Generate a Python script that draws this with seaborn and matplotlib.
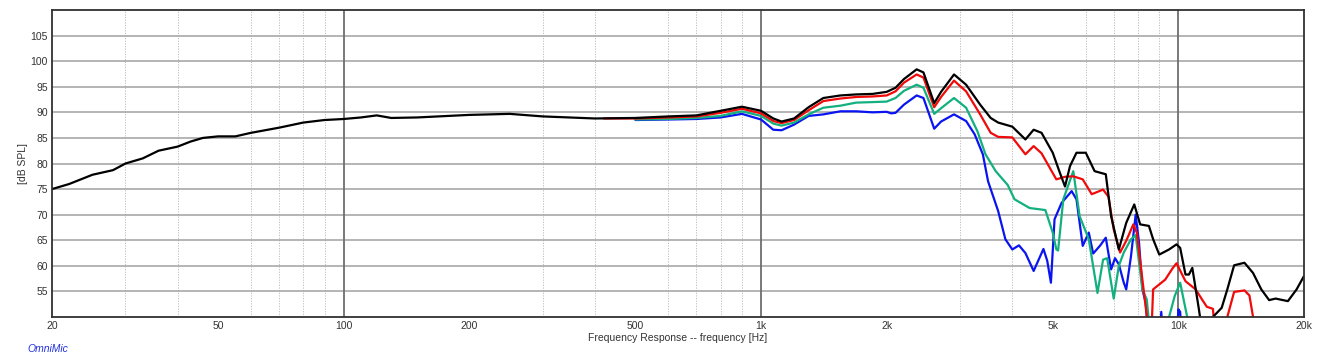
import numpy as np
import pandas as pd
import matplotlib.pyplot as plt
import matplotlib.ticker as mticker
import seaborn as sns

# frequency response readings (Hz, dB SPL); values below 50 dB are off-chart
black_f = [20, 22, 25, 28, 30, 33, 36, 40, 43, 46, 50, 55, 60, 70, 80, 90, 100, 110, 120, 130,
           150, 200, 250, 300, 400, 500, 600, 700, 800, 900, 1000, 1070, 1120, 1200, 1300, 1410,
           1550, 1690, 1850, 2000, 2100, 2200, 2360, 2450, 2600, 2700, 2900, 3100, 3350, 3550,
           3700, 4000, 4300, 4500, 4700, 5000, 5200, 5350, 5500, 5700, 6000, 6300, 6700, 6900,
           7200, 7500, 7840, 8100, 8500, 8700, 9000, 9500, 9900, 10100, 10400, 10600, 10800,
           11200, 11500, 12000, 12100, 12700, 13100, 13600, 14400, 15100, 15800, 16500, 17100,
           18300, 19200, 20000]
black_db = [75.0, 76.0, 77.8, 78.7, 80.0, 81.0, 82.5, 83.3, 84.3, 85.0, 85.3, 85.3, 86.0, 87.0,
            88.0, 88.5, 88.7, 89.0, 89.4, 88.9, 89.0, 89.5, 89.7, 89.2, 88.8, 88.9, 89.2, 89.4,
            90.3, 91.1, 90.3, 88.8, 88.2, 88.8, 91.0, 92.8, 93.3, 93.5, 93.6, 94.0, 94.8, 96.5,
            98.4, 97.8, 91.8, 94.0, 97.4, 95.4, 91.5, 88.9, 88.0, 87.2, 84.7, 86.6, 86.0, 82.1,
            78.2, 75.5, 79.5, 82.1, 82.1, 78.5, 77.9, 69.7, 63.2, 68.4, 72.0, 68.1, 67.8, 65.2,
            62.2, 63.2, 64.2, 63.5, 58.3, 58.3, 59.6, 51.5, 45.0, 45.0, 50.0, 51.8, 55.4, 60.1,
            60.6, 58.6, 55.4, 53.3, 53.6, 53.1, 55.4, 58.0]

red_f = [420, 500, 600, 700, 800, 900, 1000, 1070, 1120, 1200, 1300, 1410, 1550, 1690, 1850,
         2000, 2100, 2200, 2360, 2450, 2600, 2700, 2900, 3100, 3350, 3550, 3700, 4000, 4300,
         4500, 4700, 5100, 5350, 5600, 5900, 6200, 6600, 6800, 7000, 7250, 7500, 7800, 7950,
         8200, 8400, 8500, 8600, 8700, 9300, 9700, 9900, 10400, 11000, 11400, 11700, 12100,
         12300, 13000, 13100, 13600, 14400, 14800, 15100, 15300]
red_db = [88.8, 88.8, 89.0, 89.2, 89.9, 90.7, 89.8, 88.3, 87.9, 88.5, 90.4, 92.2, 92.7, 93.0,
          93.1, 93.3, 94.1, 95.8, 97.4, 96.8, 91.0, 93.0, 96.2, 94.1, 89.6, 86.0, 85.2, 85.1,
          81.8, 83.4, 82.0, 76.9, 77.4, 77.5, 76.9, 74.0, 74.9, 73.5, 67.1, 62.6, 64.9, 68.1,
          66.5, 57.3, 50.2, 45.0, 45.0, 55.4, 57.3, 59.6, 60.5, 57.0, 55.4, 53.4, 52.0, 51.6,
          45.0, 45.0, 50.0, 54.9, 55.2, 54.2, 50.0, 45.0]

green_f = [500, 600, 700, 800, 900, 1000, 1070, 1120, 1200, 1300, 1410, 1550, 1690, 1850, 2000,
           2100, 2200, 2360, 2450, 2600, 2700, 2900, 3100, 3300, 3450, 3650, 3900, 4050, 4400,
           4800, 5000, 5100, 5150, 5300, 5600, 5800, 6100, 6400, 6600, 6750, 7000, 7200, 7400,
           7700, 7900, 8200, 8400, 8600, 9400, 9500, 9800, 10100, 10300, 10500, 10700]
green_db = [88.6, 88.7, 88.9, 89.3, 90.2, 89.3, 87.8, 87.4, 88.0, 89.6, 90.9, 91.3, 91.9, 92.0,
            92.1, 92.8, 94.2, 95.4, 94.8, 89.7, 90.8, 92.8, 90.9, 86.3, 81.8, 78.5, 75.8, 73.0,
            71.3, 70.9, 66.5, 63.2, 63.0, 73.0, 78.5, 69.7, 65.2, 54.7, 61.2, 61.5, 53.6, 60.0,
            62.6, 65.2, 66.0, 55.4, 53.4, 45.0, 45.0, 50.0, 54.1, 56.7, 53.3, 50.0, 45.0]

blue_f = [500, 600, 700, 800, 900, 1000, 1070, 1120, 1200, 1300, 1410, 1550, 1690, 1850, 2000,
          2050, 2100, 2200, 2360, 2450, 2600, 2700, 2900, 3100, 3250, 3400, 3500, 3700, 3850,
          4000, 4150, 4300, 4500, 4750, 4850, 4950, 5050, 5250, 5550, 5700, 5900, 6100, 6250,
          6500, 6700, 6900, 7050, 7200, 7400, 7500, 7700, 7900, 8050, 8200, 8350, 8500, 9000,
          9100, 9200, 9900, 10000, 10100, 10200]
blue_db = [88.5, 88.6, 88.7, 89.0, 89.7, 88.6, 86.6, 86.5, 87.6, 89.3, 89.6, 90.2, 90.2, 90.0,
           90.1, 89.8, 89.9, 91.5, 93.3, 92.8, 86.8, 88.2, 89.6, 88.3, 85.7, 81.8, 76.5, 70.7,
           65.2, 63.2, 64.0, 62.5, 59.0, 63.3, 61.0, 56.7, 69.1, 72.3, 74.6, 73.0, 63.9, 66.5,
           62.4, 64.0, 65.5, 59.3, 61.5, 60.3, 56.7, 55.4, 61.9, 70.0, 64.5, 55.4, 52.8, 45.0,
           45.0, 51.0, 45.0, 45.0, 51.5, 51.0, 45.0]

series = {"blue": (blue_f, blue_db), "green": (green_f, green_db),
          "red": (red_f, red_db), "black": (black_f, black_db)}
df = pd.concat([pd.DataFrame({"freq": f, "spl": db, "curve": name})
                for name, (f, db) in series.items()], ignore_index=True)

sns.set_style("white")
plt.rcParams['font.family'] = ['Liberation Sans', 'DejaVu Sans']

fig = plt.figure(figsize=(13.17, 3.62), dpi=100)
ax = fig.add_axes([52 / 1317, 1 - 317 / 362, 1252 / 1317, 307 / 362])

palette = {"blue": "#0a14f0", "green": "#12b07e", "red": "#f00a0a", "black": "#000000"}
sns.lineplot(data=df, x="freq", y="spl", hue="curve", palette=palette,
             hue_order=["blue", "green", "red", "black"], linewidth=1.6,
             legend=False, ax=ax, estimator=None)

ax.set_xscale('log')
ax.set_xlim(20, 20000)
ax.set_ylim(50, 110)

xt = [20, 50, 100, 200, 500, 1000, 2000, 5000, 10000, 20000]
xl = ["20", "50", "100", "200", "500", "1k", "2k", "5k", "10k", "20k"]
ax.set_xticks(xt)
ax.set_xticklabels(xl)
minors = [m * d for d in (10, 100, 1000) for m in range(2, 10) if 20 < m * d < 20000]
ax.xaxis.set_minor_locator(mticker.FixedLocator(minors))
ax.xaxis.set_minor_formatter(mticker.NullFormatter())
ax.set_yticks(range(55, 110, 5))

ax.grid(False)
ax.grid(True, which='minor', axis='x', color='#bcbcbc', linestyle=(0, (1.2, 1.5)), linewidth=0.7)
ax.grid(True, which='major', axis='y', color='#a8a8a8', linewidth=1.2)
for d in (100, 1000, 10000):
    ax.axvline(d, color='#6e6e6e', linewidth=1.3, zorder=1)

ax.tick_params(which='both', length=0, labelsize=7.5, colors='#333333', pad=3)
for s in ax.spines.values():
    s.set_color('#303030')
    s.set_linewidth(1.3)

ax.set_xlabel("Frequency Response -- frequency [Hz]", fontsize=7.5, color='#333333', labelpad=1)
ax.set_ylabel("[dB SPL]", fontsize=7.5, color='#333333', labelpad=2)
fig.text(27 / 1317, 1 - 349 / 362, "OmniMic", color='#2030e0', fontsize=7.5,
         style='italic', va='center')

plt.savefig("out.png", dpi=100)
